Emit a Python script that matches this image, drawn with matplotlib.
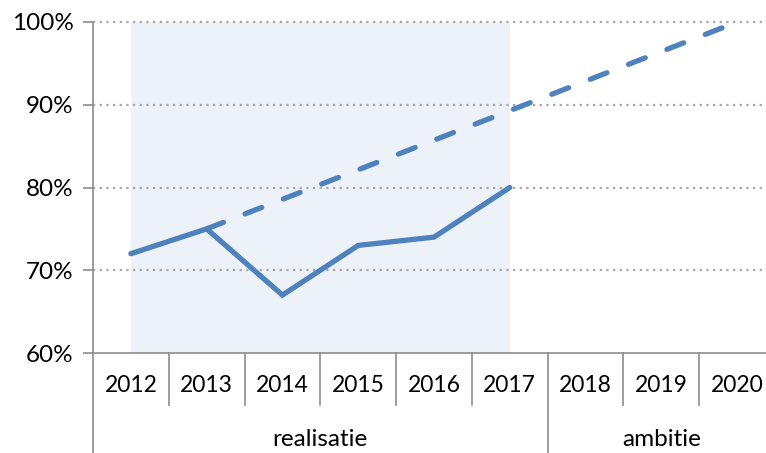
import matplotlib
matplotlib.use("Agg")
import matplotlib.pyplot as plt
import matplotlib.transforms as mtransforms

years = ["2012", "2013", "2014", "2015", "2016", "2017", "2018", "2019", "2020"]
realised = [72, 75, 67, 73, 74, 80]
ambition_years = ["2013", "2020"]
ambition = [75, 100]
groups = ["realisatie", "ambitie"]
group_sizes = [6, 3]
yticks = [60, 70, 80, 90, 100]

plt.rcParams['font.family'] = ['Lato', 'DejaVu Sans']

blue = "#4F81BD"
gray = "#8C8C8C"

fig = plt.figure(figsize=(7.66, 4.53), dpi=100)
ax = fig.add_axes([93/766, 1-353/453, 682/766, 331/453])

xpos = {y: i for i, y in enumerate(years)}
n = len(years)
ax.set_xlim(-0.5, n-0.5)
ax.set_ylim(60, 100)

# shaded realisation period
ax.axvspan(xpos[years[0]], xpos[years[group_sizes[0]-1]], color="#EDF2F9", zorder=0, lw=0)

# gridlines
for t in yticks[1:]:
    ax.axhline(t, color="#A6A6A6", ls=(0, (1, 2)), lw=1.6, zorder=1, clip_on=False)

ax.plot([xpos[y] for y in ambition_years], ambition, color=blue, lw=3.8,
        dashes=(3.4, 4.4), dash_capstyle="round", zorder=3, clip_on=False)
ax.plot(range(len(realised)), realised, color=blue, lw=3.8,
        solid_capstyle="round", solid_joinstyle="miter", zorder=4, clip_on=False)

for s in ["top", "right"]:
    ax.spines[s].set_visible(False)
for s in ["left", "bottom"]:
    ax.spines[s].set_color(gray)
    ax.spines[s].set_linewidth(1.2)

ax.set_yticks(yticks)
ax.set_yticklabels([f"{t}%" for t in yticks], fontsize=17.5)
ax.tick_params(axis="y", length=7, color=gray, width=1.2, pad=7)
ax.set_xticks([])

trans = mtransforms.blended_transform_factory(ax.transData, ax.transAxes)
h = 331.0
y_sep = -52/h
y_bot = -100/h
# left axis extension
ax.plot([-0.5, -0.5], [0, y_bot], transform=trans, color=gray, lw=1.2, clip_on=False)
# category separators
for i in range(1, n):
    bottom = y_sep
    if i == group_sizes[0]:
        bottom = y_bot
    ax.plot([i-0.5, i-0.5], [0, bottom], transform=trans, color=gray, lw=1.2, clip_on=False)
# year labels
for y in years:
    ax.text(xpos[y], -32/h, y, transform=trans, ha="center", va="center", fontsize=16.5)
# group labels
start = 0
for g, sz in zip(groups, group_sizes):
    ax.text(start + (sz-1)/2, -86/h, g, transform=trans, ha="center", va="center", fontsize=17.5)
    start += sz

fig.savefig("out.png", dpi=100)
